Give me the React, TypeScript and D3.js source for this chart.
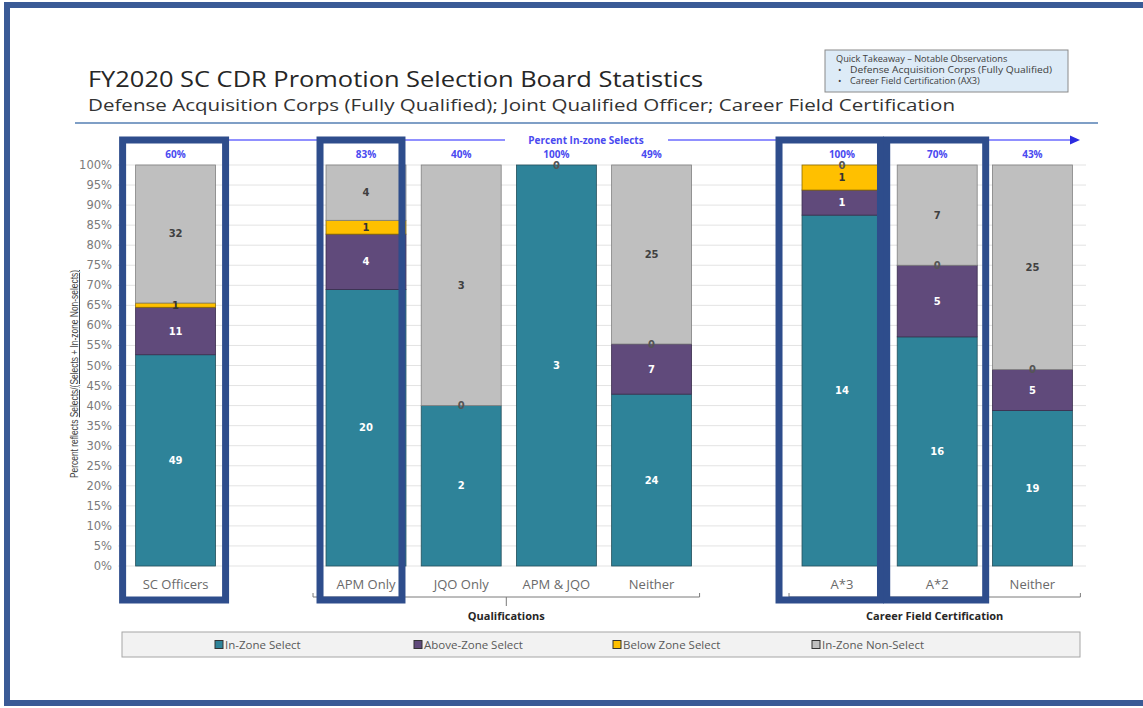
import React from "react";
import * as d3 from "d3";

const slots = ["SC Officers", "gap1", "APM Only", "JQO Only", "APM & JQO", "Neither", "gap2", "A*3", "A*2", "Neither (CFC)"];
const categories = ["SC Officers", "APM Only", "JQO Only", "APM & JQO", "Neither", "A*3", "A*2", "Neither (CFC)"];
const categoryLabels = ["SC Officers", "APM Only", "JQO Only", "APM & JQO", "Neither", "A*3", "A*2", "Neither"];
const inZoneSelect = [49, 20, 2, 3, 24, 14, 16, 19];
const aboveZoneSelect = [11, 4, 0, 0, 7, 1, 5, 5];
const belowZoneSelect = [1, 1, 0, 0, 0, 1, 0, 0];
const inZoneNonSelect = [32, 4, 3, 0, 25, 0, 7, 25];
const percentInZone = ["60%", "83%", "40%", "100%", "49%", "100%", "70%", "43%"];
const seriesNames = ["In-Zone Select", "Above-Zone Select", "Below Zone Select", "In-Zone Non-Select"];
const seriesColors = ["#2E8399", "#604A7B", "#FFC000", "#BFBFBF"];
const seriesStroke = ["#24505c", "#3a2c4d", "#8a6a00", "#808080"];
const labelColors = ["#ffffff", "#ffffff", "#333333", "#404040"];
const showZero = [false, false, true, true];
const yTicks = d3.range(0, 101, 5);
const groups = [
  { name: "Qualifications", from: "APM Only", to: "Neither" },
  { name: "Career Field Certification", from: "A*3", to: "Neither (CFC)" },
];
const highlights = [
  { cat: "SC Officers", padL: 13, padR: 10 },
  { cat: "APM Only", padL: 6, padR: -4 },
  { cat: "A*3", padL: 23, padR: -1.5 },
  { cat: "A*2", padL: 10.5, padR: 8.5 },
];

export default function App() {
  const W = 1143, H = 708;
  const x = d3.scaleBand<string>().domain(slots).range([128, 1080]).paddingInner(0.16).paddingOuter(0.08);
  const y = d3.scaleLinear().domain([0, 100]).range([566, 165]);
  const bw = x.bandwidth();

  const rows = categories.map((c, i) => {
    const vals = [inZoneSelect[i], aboveZoneSelect[i], belowZoneSelect[i], inZoneNonSelect[i]];
    const total = d3.sum(vals);
    return { c, i, vals, total };
  });
  const stack = d3.stack<any>().keys(["0", "1", "2", "3"]).value((d: any, k: string) => (d.vals[+k] / d.total) * 100);
  const stacked = stack(rows as any);

  const font = "'Open Sans', 'DejaVu Sans', sans-serif";
  const zeroSeen = new Set<string>();

  return (
    <svg width={W} height={H} style={{ position: "absolute", left: 0, top: 0, background: "#fff" }} fontFamily={font}>
      <rect x={7} y={5} width={1150} height={698} fill="#fff" stroke="#3A5A96" strokeWidth={6} />
      {/* title */}
      <text x={88} y={86.5} fontSize={21.5} fill="#262626" textLength={615} lengthAdjust="spacingAndGlyphs">FY2020 SC CDR Promotion Selection Board Statistics</text>
      <text x={88} y={110.5} fontSize={16.5} fill="#333" textLength={867} lengthAdjust="spacingAndGlyphs">Defense Acquisition Corps (Fully Qualified); Joint Qualified Officer; Career Field Certification</text>
      <line x1={75} x2={1098} y1={123} y2={123} stroke="#7F9FC6" strokeWidth={2} />
      {/* takeaway box */}
      <rect x={825} y={50} width={243} height={42} fill="#DDEBF7" stroke="#8a8a8a" strokeWidth={1} />
      <text x={836} y={62} fontSize={9.2} fill="#404040">Quick Takeaway – Notable Observations</text>
      <text x={838} y={73} fontSize={9.2} fill="#404040">•</text>
      <text x={850} y={73} fontSize={9.2} fill="#404040" textLength={202} lengthAdjust="spacingAndGlyphs">Defense Acquisition Corps (Fully Qualified)</text>
      <text x={838} y={84} fontSize={9.2} fill="#404040">•</text>
      <text x={850} y={84} fontSize={9.2} fill="#404040">Career Field Certification (AX3)</text>

      {/* gridlines */}
      {yTicks.map((t) => (
        <line key={t} x1={118} x2={1086} y1={y(t)} y2={y(t)} stroke="#E3E3E3" strokeWidth={1} />
      ))}
      {yTicks.map((t) => (
        <text key={"l" + t} x={112} y={y(t) + 4} fontSize={11.5} textAnchor="end" fill="#7a7a7a" fontFamily="'DejaVu Sans', sans-serif">{t}%</text>
      ))}
      {/* y-axis title */}
      <text transform={`translate(78,${374}) rotate(-90)`} fontSize={10} textAnchor="middle" fill="#404040" fontFamily="'Liberation Sans', sans-serif" textLength={208} lengthAdjust="spacingAndGlyphs">
        <tspan>Percent reflects </tspan>
        <tspan textDecoration="underline">Selects</tspan>
        <tspan>/</tspan>
        <tspan textDecoration="underline">(Selects + In-zone Non-selects)</tspan>
      </text>

      {/* percent in-zone line */}
      <line x1={228} x2={505} y1={140} y2={140} stroke="#6B6BFF" strokeWidth={1.5} />
      <line x1={668} x2={1072} y1={140} y2={140} stroke="#6B6BFF" strokeWidth={1.5} />
      <path d="M1070,135.5 L1080,140 L1070,144.5 Z" fill="#2B2BE0" />
      <text x={586} y={144} fontSize={10} fontWeight="bold" textAnchor="middle" fill="#4A4AF0">Percent In-zone Selects</text>

      {/* bars */}
      {stacked.map((s, si) =>
        s.map((d: any, ci) => {
          const cat = categories[ci];
          const x0 = x(cat)!;
          const h = y(d[0]) - y(d[1]);
          return (
            <rect key={si + "-" + ci} x={x0} y={y(d[1])} width={bw} height={Math.max(h, 0)} fill={seriesColors[si]} stroke={seriesStroke[si]} strokeWidth={h > 0 ? 0.8 : 0} />
          );
        })
      )}
      {/* segment labels */}
      {stacked.map((s, si) =>
        s.map((d: any, ci) => {
          const cat = categories[ci];
          const v = rows[ci].vals[si];
          if (v === 0) {
            if (!showZero[si]) return null;
            const key = cat + "@" + d[0].toFixed(2);
            if (zeroSeen.has(key)) return null;
            zeroSeen.add(key);
          }
          const cx = x(cat)! + bw / 2;
          const cy = y((d[0] + d[1]) / 2);
          return (
            <text key={"t" + si + "-" + ci} x={cx} y={cy + 3.5} fontSize={10} fontWeight="bold" textAnchor="middle" fill={v === 0 ? "#555" : labelColors[si]} fontFamily="'DejaVu Sans', sans-serif">{v}</text>
          );
        })
      )}
      {/* top percent labels */}
      {categories.map((c, i) => (
        <text key={"p" + c} x={x(c)! + bw / 2} y={158} fontSize={10} fontWeight="bold" textAnchor="middle" fill="#4A4AF0">{percentInZone[i]}</text>
      ))}
      {/* category labels */}
      {categories.map((c, i) => (
        <text key={"c" + c} x={x(c)! + bw / 2} y={589} fontSize={13} textAnchor="middle" fill="#6a6a6a" fontFamily="'Open Sans', sans-serif">{categoryLabels[i]}</text>
      ))}
      {/* group brackets */}
      {groups.map((g) => {
        const x1 = x(g.from)! - 13;
        const x2 = x(g.to)! + bw + 8;
        const mid = (x1 + x2) / 2;
        return (
          <g key={g.name}>
            <path d={`M${x1},593 L${x1},597 L${x2},597 L${x2},593`} fill="none" stroke="#7a7a7a" strokeWidth={1} />
            {g.name === "Qualifications" && <line x1={mid} x2={mid} y1={597} y2={606} stroke="#7a7a7a" strokeWidth={1} />}
            <text x={mid} y={620} fontSize={11} fontWeight="bold" textAnchor="middle" fill="#262626">{g.name}</text>
          </g>
        );
      })}
      {/* highlight boxes */}
      {highlights.map((h) => {
        const x0 = x(h.cat)! - h.padL;
        const x1 = x(h.cat)! + bw + h.padR;
        return <rect key={h.cat} x={x0} y={140} width={x1 - x0} height={460} fill="none" stroke="#2E4D8C" strokeWidth={7} />;
      })}
      {/* legend */}
      <rect x={122} y={632} width={958} height={25} fill="#F2F2F2" stroke="#A6A6A6" strokeWidth={1} />
      {seriesNames.map((n, i) => {
        const lx = 215 + i * 199;
        return (
          <g key={n}>
            <rect x={lx} y={640.5} width={8} height={8} fill={seriesColors[i]} stroke="#333" strokeWidth={1} />
            <text x={lx + 10} y={648.5} fontSize={11.5} fill="#595959">{n}</text>
          </g>
        );
      })}
    </svg>
  );
}
